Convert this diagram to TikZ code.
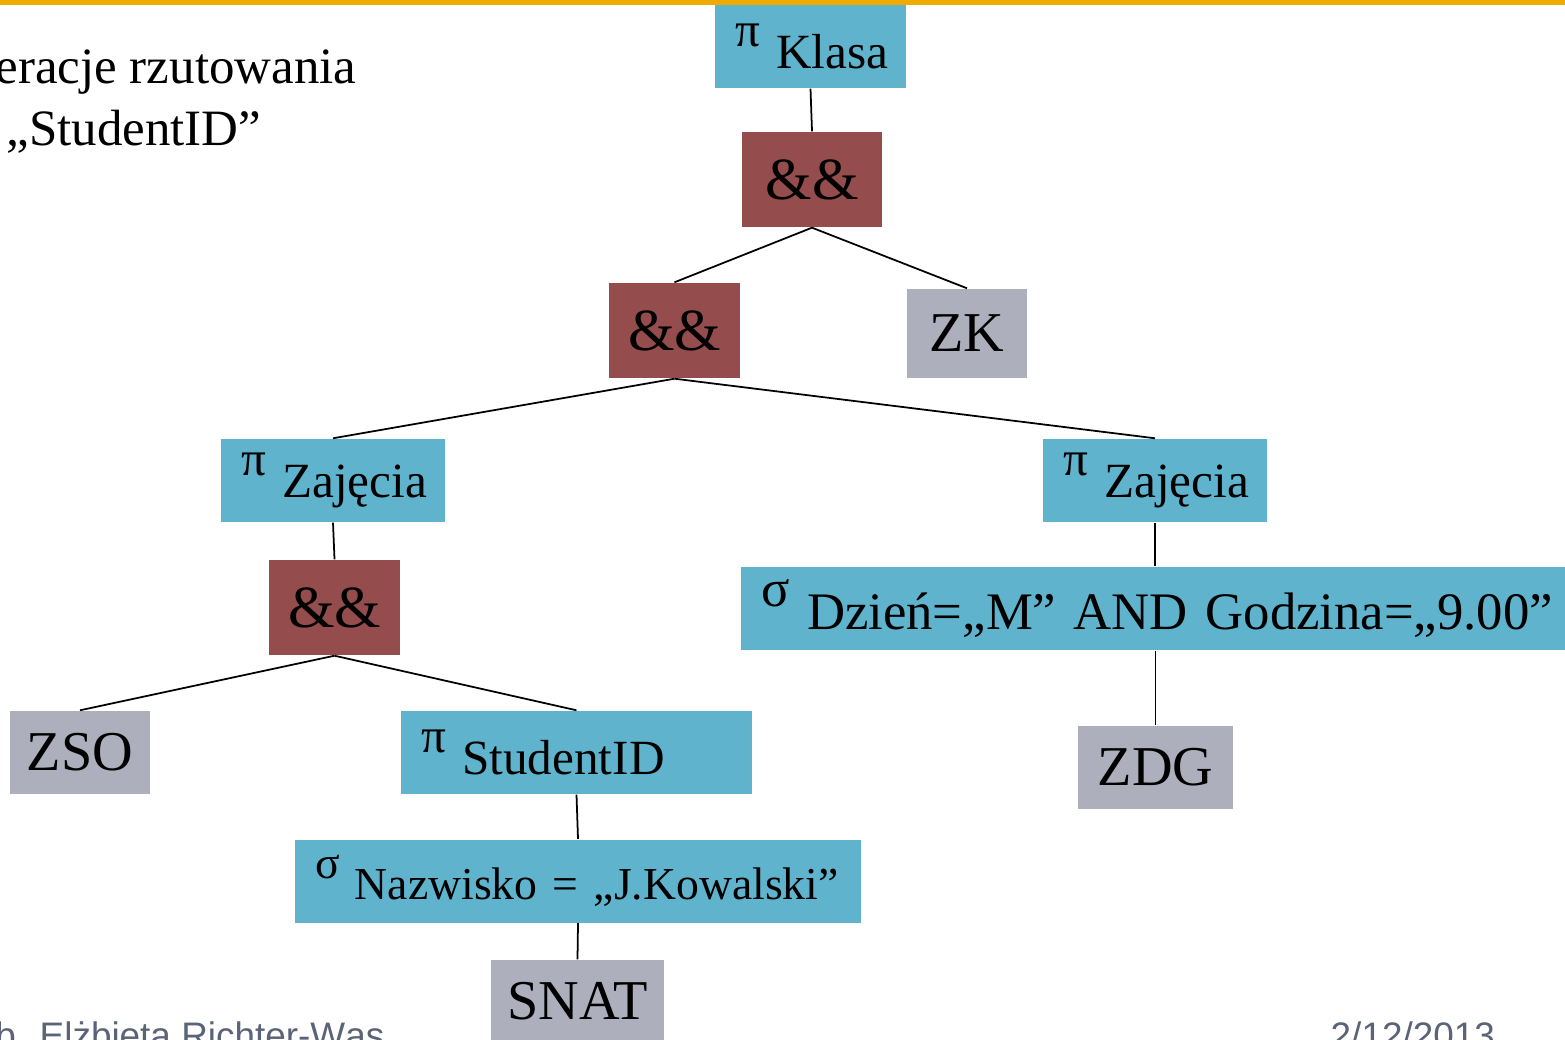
\documentclass[tikz,border=0pt]{standalone}
\usepackage{fontspec}
\setmainfont{Liberation Serif}
\newfontfamily\stopka{Liberation Sans}
\definecolor{pasek}{HTML}{F0AB00}
\definecolor{niebieski}{HTML}{5FB3CC}
\definecolor{bordo}{HTML}{944C4C}
\definecolor{szary}{HTML}{ADB0BC}
\definecolor{stopkaszary}{HTML}{5A6377}
\newcommand{\rzut}[1]{\mbox{\raisebox{.45em}{π} #1}}
\newcommand{\selek}[1]{\mbox{\raisebox{.45em}{σ} #1}}

\begin{document}
\begin{tikzpicture}[
  oper/.style={fill=niebieski, inner sep=0pt, inner xsep=2mm, minimum height=8.3mm, align=left, font=\fontsize{14}{16}\selectfont},
  zlacz/.style={fill=bordo, inner sep=0pt, minimum width=1.31cm, minimum height=9.5mm, font=\fontsize{17}{20}\selectfont},
  tabela/.style={fill=szary, inner sep=0pt, minimum height=8.3mm, font=\fontsize{16}{19}\selectfont},
  napis/.style={inner sep=0pt},
  krawedz/.style={line width=0.5pt}
]
\useasboundingbox (0,0) rectangle (15.65,10.39);
\clip (0,0) rectangle (15.65,10.39);
%top bar
\fill[pasek] (0,10.335) rectangle (15.65,10.39);
%slide text, cut off at the left
\node[napis, anchor=base east, font=\fontsize{14.5}{17}\selectfont] (tytul1) at (3.57, 9.55) {Operacje rzutowania};
\node[napis, anchor=base east, font=\fontsize{14.5}{17}\selectfont] (tytul2) at (2.62, 8.93) {„StudentID”};

%tree nodes
\node[oper, text width=15.1mm] (klasa) at (8.105, 9.925) {\rzut{Klasa}};
\node[zlacz, minimum width=1.40cm] (and1) at (8.12, 8.595) {\&\&};
\node[zlacz] (and2) at (6.745, 7.085) {\&\&};
\node[tabela, minimum width=1.20cm, minimum height=8.9mm] (zk) at (9.67, 7.055) {ZK};
\node[oper, text width=18.4mm] (zajL) at (3.33, 5.585) {\rzut{Zajęcia}};
\node[oper, text width=18.4mm] (zajR) at (11.55, 5.585) {\rzut{Zajęcia}};
\node[zlacz] (and3) at (3.345, 4.315) {\&\&};
\node[oper, text width=78.4mm, font=\fontsize{15}{17}\selectfont] (selR) at (11.53, 4.305) {\selek{Dzień=„M” AND Godzina=„9.00”}};
\node[tabela, minimum width=1.40cm] (zso) at (0.80, 2.865) {ZSO};
\node[oper, text width=31.1mm] (studid) at (5.765, 2.865) {\rzut{StudentID}};
\node[tabela, minimum width=1.55cm] (zdg) at (11.555, 2.715) {ZDG};
\node[oper, text width=52.6mm, font=\fontsize{13}{15}\selectfont] (selL) at (5.78, 1.58) {\selek{Nazwisko = „J.Kowalski”}};
\node[tabela, minimum width=1.73cm] (snat) at (5.775, 0.375) {SNAT};

%edges
\draw[krawedz] (klasa.south) -- (and1.north);
\draw[krawedz] (and1.south) -- (and2.north);
\draw[krawedz] (and1.south) -- (zk.north);
\draw[krawedz] (and2.south) -- (zajL.north);
\draw[krawedz] (and2.south) -- (zajR.north);
\draw[krawedz] (zajL.south) -- (and3.north);
\draw[krawedz] (and3.south) -- (zso.north);
\draw[krawedz] (and3.south) -- (studid.north);
\draw[krawedz] (studid.south) -- (selL.north);
\draw[krawedz] (selL.south) -- (snat.north);
\draw[krawedz] (zajR.south) -- (zajR.south |- selR.north);
\draw[krawedz] (selR.south -| zdg.north) -- (zdg.north);

%footer, cut off at the bottom
\node[napis, anchor=base east, font=\stopka\fontsize{10.5}{12}\selectfont, text=stopkaszary] (autor) at (3.85, -0.095) {dr hab. Elżbieta Richter-Wąs};
\node[napis, anchor=base west, font=\stopka\fontsize{10.5}{12}\selectfont, text=stopkaszary] (data) at (13.30, -0.095) {2/12/2013};
\end{tikzpicture}
\end{document}
